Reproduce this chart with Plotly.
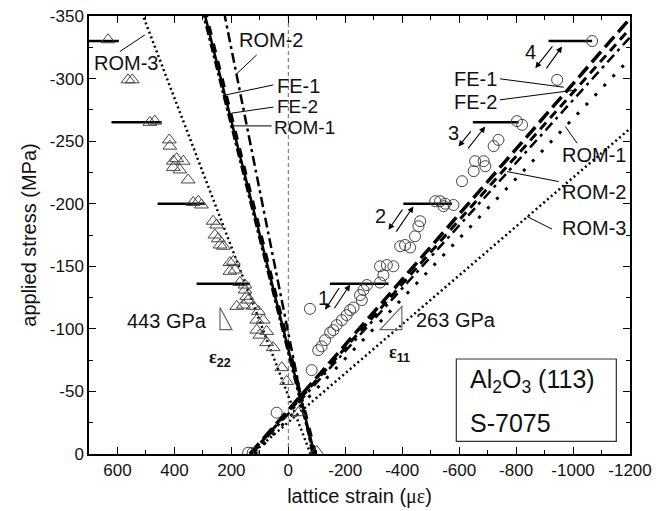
import plotly.graph_objects as go

# ---------------- data ----------------
# epsilon_22 measurements (open triangles): lattice strain (µε), applied stress (MPa)
e22_strain = [633, 563, 548, 486, 469, 418, 416, 404, 392, 369, 404, 381, 352,
              334, 316, 305, 264, 252, 258, 246, 240, 228, 205, 193, 205, 187,
              170, 152, 152, 146, 141, 123, 181, 158, 105, 111, 88, 111, 100,
              76, 76, 53, 23, 6, -35, -100]
e22_stress = [-331, -299, -299, -265, -266, -251, -246, -234, -236, -234, -229, -227, -219,
              -201, -202, -199, -186, -183, -175, -172, -167, -166, -153, -154, -146, -147,
              -137, -135, -131, -126, -123, -118, -118, -119, -114, -107, -107, -99, -95,
              -98, -89, -85, -69, -58, -33, -2]

# epsilon_11 measurements (open circles)
e11_strain = [141, 125, 41, -82, -76, -105, -117, -129, -147, -158, -170, -188, -205,
              -217, -229, -258, -252, -264, -276, -322, -334, -322, -346, -369,
              -393, -410, -428, -445, -457, -463, -516, -533, -551, -580, -545,
              -610, -651, -656, -686, -692, -721, -738, -803, -821, -944, -1067]
e11_stress = [-1, -1, -33, -67, -116, -83, -86, -91, -97, -99, -103, -107, -111,
              -115, -117, -123, -127, -131, -135, -137, -143, -150, -151, -150,
              -166, -167, -165, -174, -182, -186, -202, -202, -200, -199, -198,
              -218, -226, -234, -234, -230, -246, -251, -266, -263, -299, -330]

# model lines (end points)
line_stress = [0, -350]
fe1_e22 = [-92, 292]
fe2_e22 = [-96, 287]
rom1_e22 = [-89, 297]
rom2_e22 = [-85, 223]
rom3_e22 = [-78, 510]

fe1_e11_x = [135, -1200]
fe1_e11 = [0, -348]
fe2_e11_x = [132, -1200]
fe2_e11 = [0, -340]
rom2_e11_x = [128, -1200]
rom2_e11 = [0, -333]
rom1_e11_x = [118, -1200]
rom1_e11 = [0, -316]
rom3_e11_x = [130, -1200]
rom3_e11 = [0, -260]

# unloading stress levels and their strain spans
unload_stress = [-136, -200, -265, -330]
unload_left_from = [322, 459, 621, 700]
unload_left_to = [135, 293, 445, 595]
unload_right_from = [-146, -404, -648, -914]
unload_right_to = [-352, -575, -809, -1067]

# tick labels
x_tickvals = [600, 400, 200, 0, -200, -400, -600, -800, -1000, -1200]
x_ticktext = ["600", "400", "200", "0", "-200", "-400", "-600", "-800", "-1000", "-1200"]
y_tickvals = [0, -50, -100, -150, -200, -250, -300, -350]
y_ticktext = ["0", "-50", "-100", "-150", "-200", "-250", "-300", "-350"]

FONT = "Liberation Sans, Arial, sans-serif"

fig = go.Figure()

def add_line(x, y, dash, width):
    fig.add_trace(go.Scatter(x=x, y=y, mode="lines",
                             line=dict(color="black", dash=dash, width=width),
                             showlegend=False, hoverinfo="skip"))

# epsilon_22 model lines
add_line(fe1_e22, line_stress, "solid", 2.5)
add_line(fe2_e22, line_stress, "dash", 3)
add_line(rom1_e22, line_stress, "dashdot", 2.5)
add_line(rom2_e22, line_stress, "10px,4px,3px,4px", 2.5)
add_line(rom3_e22, line_stress, "2px,3px", 2.5)

# epsilon_11 model lines
add_line(fe1_e11_x, fe1_e11, "14px,6px", 3.5)
add_line(fe2_e11_x, fe2_e11, "9px,6px", 3)
add_line(rom2_e11_x, rom2_e11, "10px,5px,3px,5px", 2.5)
add_line(rom1_e11_x, rom1_e11, "3px,10px", 3)
add_line(rom3_e11_x, rom3_e11, "2px,3px", 2.5)

# unloading segments
for s, a, b in zip(unload_stress, unload_left_from, unload_left_to):
    add_line([a, b], [s, s], "solid", 2.5)
for s, a, b in zip(unload_stress, unload_right_from, unload_right_to):
    add_line([a, b], [s, s], "solid", 2.5)

# data markers
fig.add_trace(go.Scatter(x=e22_strain, y=e22_stress, mode="markers",
                         marker=dict(symbol="triangle-up-open", size=12,
                                     color="#444", line=dict(width=1, color="#444")),
                         showlegend=False))
fig.add_trace(go.Scatter(x=e11_strain, y=e11_stress, mode="markers",
                         marker=dict(symbol="circle-open", size=11,
                                     color="#444", line=dict(width=1, color="#444")),
                         showlegend=False))

shapes = []
# zero strain reference line
shapes.append(dict(type="line", xref="x", yref="y", x0=0, x1=0, y0=0, y1=-350,
                   line=dict(color="#666", width=1, dash="4px,3px"), layer="below"))
# pointer lines
pointers = [
    (591.8, -321.6, 503.9, -334.9),
    (111.1, -318.9, 181.4, -303.8),
    (52.7, -294.9, 230.7, -286.4),
    (52.7, -277.2, 199, -272.4),
    (58.4, -262.2, 199, -262.2),
    (-743.3, -299.8, -967, -293.1),
    (-743.3, -283, -1014, -291),
    (-1014, -248.4, -973, -261.7),
    (-949.4, -217.7, -768, -225.7),
    (-926.2, -179.7, -838.2, -189.8),
]
for x0, y0, x1, y1 in pointers:
    shapes.append(dict(type="line", xref="x", yref="y", x0=x0, y0=y0, x1=x1, y1=y1,
                       line=dict(color="black", width=1)))
# slope triangles
shapes.append(dict(type="path", xref="x", yref="y",
                   path="M 240 -117 L 240 -99.4 L 198 -99.4 Z",
                   line=dict(color="#666", width=1.2)))
shapes.append(dict(type="path", xref="x", yref="y",
                   path="M -398.7 -117.9 L -398.7 -99.4 L -322.4 -99.4 Z",
                   line=dict(color="#666", width=1.2)))
# info box
shapes.append(dict(type="rect", xref="x", yref="y", x0=-590, x1=-1152, y0=-75.9, y1=-10.1,
                   line=dict(color="#333", width=1.2), fillcolor="white"))

ann = []
def txt(x, y, t, size=20, xanchor="center"):
    ann.append(dict(x=x, y=y, xref="x", yref="y", text=t, showarrow=False,
                    xanchor=xanchor, yanchor="middle",
                    font=dict(family=FONT, size=size, color="#111")))

txt(691, -312.5, "ROM-3", xanchor="left")
txt(181.4, -330.9, "ROM-2", xanchor="left")
txt(46.8, -294.2, "FE-1", xanchor="left")
txt(46.8, -277.5, "FE-2", size=19, xanchor="left")
txt(58.4, -261.0, "ROM-1", size=19, xanchor="left")
txt(-738.4, -299.8, "FE-1", xanchor="right")
txt(-738.4, -281.6, "FE-2", xanchor="right")
txt(-955.3, -239.1, "ROM-1", xanchor="left")
txt(-955.3, -209.7, "ROM-2", xanchor="left")
txt(-955.3, -180.5, "ROM-3", xanchor="left")
txt(-849.9, -321.6, "4")
txt(-580.2, -256.4, "3")
txt(-322.4, -189.8, "2")
txt(-123.1, -124.6, "1")
txt(424.8, -105.9, "443 GPa")
txt(-587.9, -107.3, "263 GPa")
txt(240, -76, "<b><span style='font-family:Liberation Serif'>ε</span><sub>22</sub></b>", size=18)
txt(-392, -80, "<b><span style='font-family:Liberation Serif'>ε</span><sub>11</sub></b>", size=18)
txt(-632, -58, "Al<sub>2</sub>O<sub>3</sub> (113)", size=25, xanchor="left")
txt(-632, -25, "S-7075", size=25, xanchor="left")

# loading/unloading arrows: (head_x, head_y, tail_x, tail_y)
arrows = [
    (-867.4, -308.3, -931.8, -326.9), (-961.3, -325.6, -902.6, -306.9),
    (-597.7, -245.7, -644.9, -259.0), (-691.6, -261.7, -627.3, -243.0),
    (-351.6, -179.2, -404.4, -196.5), (-439.5, -197.8, -375.2, -176.5),
    (-129.0, -115.3, -181.8, -133.9), (-216.9, -135.3, -158.2, -115.3),
]
for hx, hy, tx, ty in arrows:
    ann.append(dict(x=hx, y=hy, ax=tx, ay=ty, xref="x", yref="y", axref="x", ayref="y",
                    text="", showarrow=True, arrowhead=2, arrowsize=1.1,
                    arrowwidth=1.1, arrowcolor="black"))

axis_common = dict(
    showline=True, linecolor="black", linewidth=1.5, mirror="ticks",
    ticks="inside", ticklen=7, tickwidth=1.3, tickcolor="black",
    showgrid=False, zeroline=False, automargin=False,
    tickfont=dict(family=FONT, size=17, color="#111"),
)

fig.update_layout(
    width=665, height=511,
    margin=dict(l=89, r=35, t=16, b=57),
    paper_bgcolor="white", plot_bgcolor="white",
    shapes=shapes, annotations=ann,
    xaxis=dict(range=[700, -1200], tickmode="array", tickvals=x_tickvals, ticktext=x_ticktext,
               minor=dict(ticks="inside", ticklen=4, dtick=100, tick0=0,
                          tickcolor="black", tickwidth=1.2),
               title=dict(text="lattice strain (<span style='font-family:Liberation Serif'>με</span>)",
                          font=dict(family=FONT, size=20, color="#111"), standoff=10),
               **axis_common),
    yaxis=dict(range=[0, -350], tickmode="array", tickvals=y_tickvals, ticktext=y_ticktext,
               minor=dict(ticks="inside", ticklen=4, dtick=25, tick0=0,
                          tickcolor="black", tickwidth=1.2),
               title=dict(text="applied stress (MPa)",
                          font=dict(family=FONT, size=20, color="#111"), standoff=8),
               **axis_common),
)

fig.write_html("out.html")
